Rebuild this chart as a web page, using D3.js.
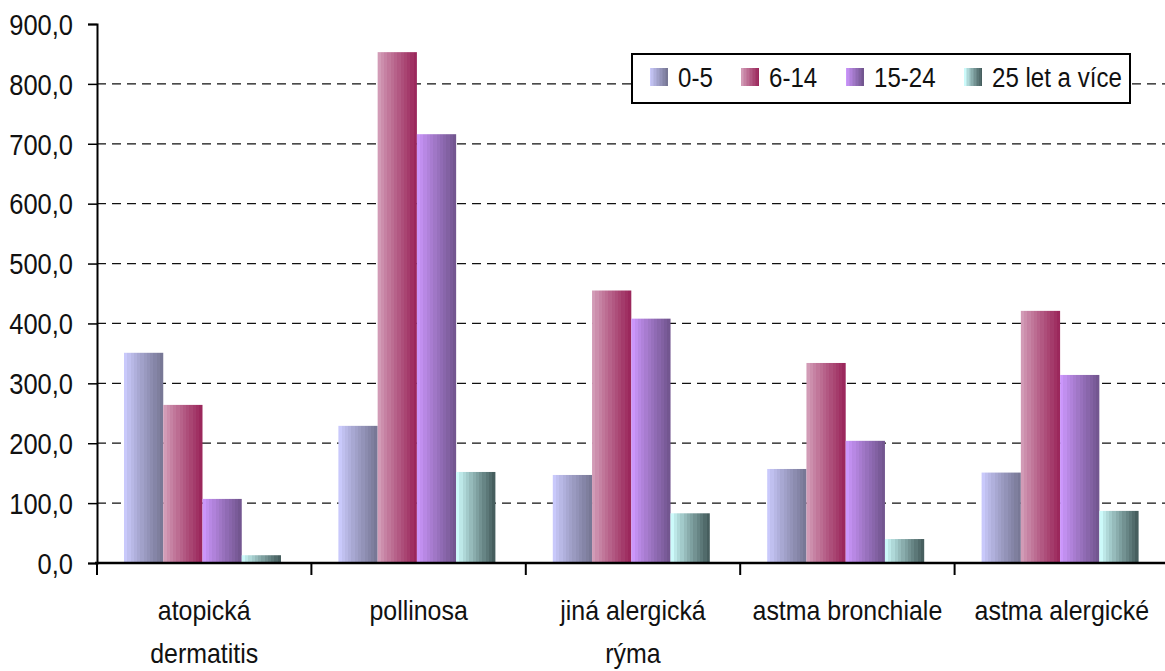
<!DOCTYPE html>
<html>
<head>
<meta charset="utf-8">
<script src="https://cdn.jsdelivr.net/npm/d3@7"></script>
<style>
  body { margin: 0; background: #fff; }
  svg text { font-family: "Liberation Sans Narrow", "Arial Narrow", "Liberation Sans", sans-serif; fill: #111; }
</style>
</head>
<body>
<svg id="chart" width="1165" height="671"></svg>
<script>
// data
const categories = [["atopická", "dermatitis"], ["pollinosa"], ["jiná alergická", "rýma"], ["astma bronchiale"], ["astma alergické"]];
const series = ["0-5", "6-14", "15-24", "25 let a více"];
const v0_5 = [351, 229, 147, 157, 151];
const v6_14 = [264, 853, 455, 334, 421];
const v15_24 = [107, 716, 408, 204, 314];
const v25 = [13, 152, 83, 40, 87];
const yTicks = [0, 100, 200, 300, 400, 500, 600, 700, 800, 900];
const gradColors = [["#c9c9fb", "#787896"], ["#d29bb6", "#9b285c"], ["#cb96fb", "#735690"], ["#ccfafa", "#465e5e"]];

const values = [v0_5, v6_14, v15_24, v25];

const svg = d3.select("#chart");
const margin = { left: 97, right: -4, top: 24, bottom: 108 };
const W = 1165, H = 671;
const FS = 28;      // font size
const SQ = 0.89;    // horizontal squeeze, fakes the narrow face

const x = d3.scaleBand().domain(d3.range(categories.length)).range([margin.left, W - margin.right]);
const x1 = d3.scaleBand().domain(d3.range(series.length)).range([27, 27 + 157]);
const y = d3.scaleLinear().domain([0, 900]).range([H - margin.bottom, margin.top]);

// text helper: narrow text placed at (px, py)
function narrowText(sel, px, py, sq, fs) {
  sel.attr("transform", (d, i) => "translate(" + px(d, i) + "," + py(d, i) + ") scale(" + (sq || SQ) + ",1)")
    .attr("font-size", fs || FS);
}

// gradients, banded like the original
const defs = svg.append("defs");
gradColors.forEach(function(c, i) {
  const g = defs.append("linearGradient").attr("id", "g" + i)
    .attr("x1", 0).attr("x2", 1).attr("y1", 0).attr("y2", 0);
  const n = 12;
  const interp = d3.interpolateRgb(c[0], c[1]);
  for (let k = 0; k < n; k++) {
    const col = interp(Math.pow(k / (n - 1), 0.9));
    g.append("stop").attr("offset", k / n).attr("stop-color", col);
    g.append("stop").attr("offset", (k + 1) / n).attr("stop-color", col);
  }
});

// gridlines
svg.append("g").selectAll("line")
  .data(yTicks.filter(d => d > 0 && d < 900))
  .join("line")
  .attr("x1", margin.left).attr("x2", W)
  .attr("y1", d => y(d)).attr("y2", d => y(d))
  .attr("stroke", "#111").attr("stroke-width", 1.2)
  .attr("stroke-dasharray", "9,6");

// bars
const groups = svg.append("g").selectAll("g")
  .data(categories)
  .join("g")
  .attr("transform", (d, i) => "translate(" + x(i) + ",0)");

groups.selectAll("rect")
  .data((d, i) => values.map((s, si) => ({ s: si, v: s[i] })))
  .join("rect")
  .attr("x", d => x1(d.s))
  .attr("width", x1.bandwidth())
  .attr("y", d => y(d.v))
  .attr("height", d => y(0) - y(d.v))
  .attr("fill", d => "url(#g" + d.s + ")");

// y axis
const yAxis = svg.append("g").attr("transform", "translate(" + margin.left + ",0)")
  .call(d3.axisLeft(y).tickValues(yTicks).tickSize(9).tickFormat(""));
yAxis.select(".domain").attr("stroke", "#000").attr("stroke-width", 2);
yAxis.selectAll(".tick line").attr("stroke", "#000").attr("stroke-width", 1.5);

svg.append("g").selectAll("text")
  .data(yTicks)
  .join("text")
  .attr("text-anchor", "end")
  .attr("dy", "0.36em")
  .text(d => d3.format(".1f")(d).replace(".", ","))
  .call(narrowText, () => 73, d => y(d), 0.85, 30);

// x axis
const xAxisG = svg.append("g");
xAxisG.append("line")
  .attr("x1", margin.left - 2).attr("x2", W)
  .attr("y1", y(0)).attr("y2", y(0))
  .attr("stroke", "#000").attr("stroke-width", 2.5);
xAxisG.selectAll(".xt")
  .data(d3.range(categories.length))
  .join("line")
  .attr("x1", d => x(d)).attr("x2", d => x(d))
  .attr("y1", y(0)).attr("y2", y(0) + 12)
  .attr("stroke", "#000").attr("stroke-width", 2);

xAxisG.selectAll(".xl")
  .data(categories)
  .join("text")
  .attr("text-anchor", "middle")
  .call(narrowText, (d, i) => x(i) + x.bandwidth() / 2, () => 620)
  .each(function(d) {
    d3.select(this).selectAll("tspan").data(d).join("tspan")
      .attr("x", 0)
      .attr("dy", (t, k) => k === 0 ? 0 : 43)
      .text(t => t);
  });

// legend
const legend = svg.append("g").attr("transform", "translate(632,54)");
legend.append("rect").attr("width", 498).attr("height", 49)
  .attr("fill", "#fff").attr("stroke", "#000").attr("stroke-width", 2);
const legX = [18, 109, 214, 332];
const items = legend.selectAll("g.item").data(series).join("g")
  .attr("transform", (d, i) => "translate(" + legX[i] + ",14)");
items.append("rect").attr("width", 18).attr("height", 18).attr("fill", (d, i) => "url(#g" + i + ")");
items.append("text").text(d => d)
  .call(narrowText, () => 28, () => 19, 0.86);
</script>
</body>
</html>
